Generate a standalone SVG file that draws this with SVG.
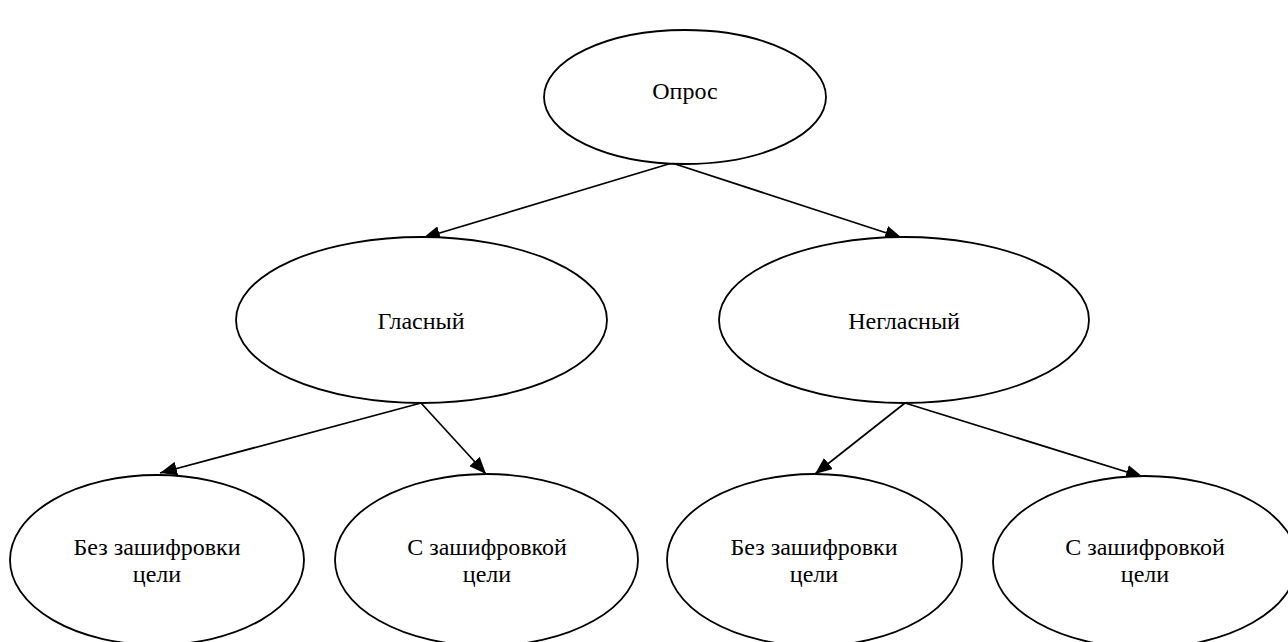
<svg xmlns="http://www.w3.org/2000/svg" width="1288" height="642" viewBox="0 0 1288 642">
  <style>
    .node ellipse { fill: #ffffff; stroke: #000000; stroke-width: 1.8; }
    .lbl { font-family: 'Liberation Serif', 'Times New Roman', serif; font-size: 24px; fill: #000000; text-anchor: middle; }
    .edge { stroke: #000000; stroke-width: 1.7; fill: none; marker-end: url(#arrow); }
  </style>
  <defs>
    <marker id="arrow" markerUnits="userSpaceOnUse" markerWidth="18" markerHeight="14" refX="17" refY="7" orient="auto">
      <path d="M0,0 L17,7 L0,14 Z" fill="#000000"/>
    </marker>
  </defs>
  <rect width="1288" height="642" fill="#ffffff"/>
  <g id="connectors">
    <line class="edge" x1="672" y1="163" x2="423" y2="238"/>
    <line class="edge" x1="672" y1="163" x2="902" y2="238"/>
    <line class="edge" x1="421" y1="403" x2="160" y2="473"/>
    <line class="edge" x1="421" y1="403" x2="486" y2="474"/>
    <line class="edge" x1="905" y1="403" x2="815" y2="474"/>
    <line class="edge" x1="905" y1="403" x2="1143" y2="477"/>
  </g>
  <g id="node-opros" class="node">
    <ellipse cx="685" cy="97" rx="141" ry="67"/>
    <text class="lbl" x="685" y="99">Опрос</text>
  </g>
  <g id="node-glasny" class="node">
    <ellipse cx="421.5" cy="320" rx="185.5" ry="83"/>
    <text class="lbl" x="421" y="329">Гласный</text>
  </g>
  <g id="node-neglasny" class="node">
    <ellipse cx="904" cy="320" rx="185" ry="83"/>
    <text class="lbl" x="904" y="329">Негласный</text>
  </g>
  <g id="node-bez1" class="node">
    <ellipse cx="157" cy="560" rx="147" ry="85"/>
    <text class="lbl" x="157" y="555">Без зашифровки</text>
    <text class="lbl" x="157" y="582">цели</text>
  </g>
  <g id="node-s1" class="node">
    <ellipse cx="486.5" cy="560" rx="151.5" ry="86"/>
    <text class="lbl" x="487" y="555">С зашифровкой</text>
    <text class="lbl" x="487" y="582">цели</text>
  </g>
  <g id="node-bez2" class="node">
    <ellipse cx="814.5" cy="560" rx="147.5" ry="86"/>
    <text class="lbl" x="814" y="555">Без зашифровки</text>
    <text class="lbl" x="814" y="582">цели</text>
  </g>
  <g id="node-s2" class="node">
    <ellipse cx="1145" cy="562" rx="152" ry="86"/>
    <text class="lbl" x="1145" y="555">С зашифровкой</text>
    <text class="lbl" x="1145" y="582">цели</text>
  </g>
</svg>
